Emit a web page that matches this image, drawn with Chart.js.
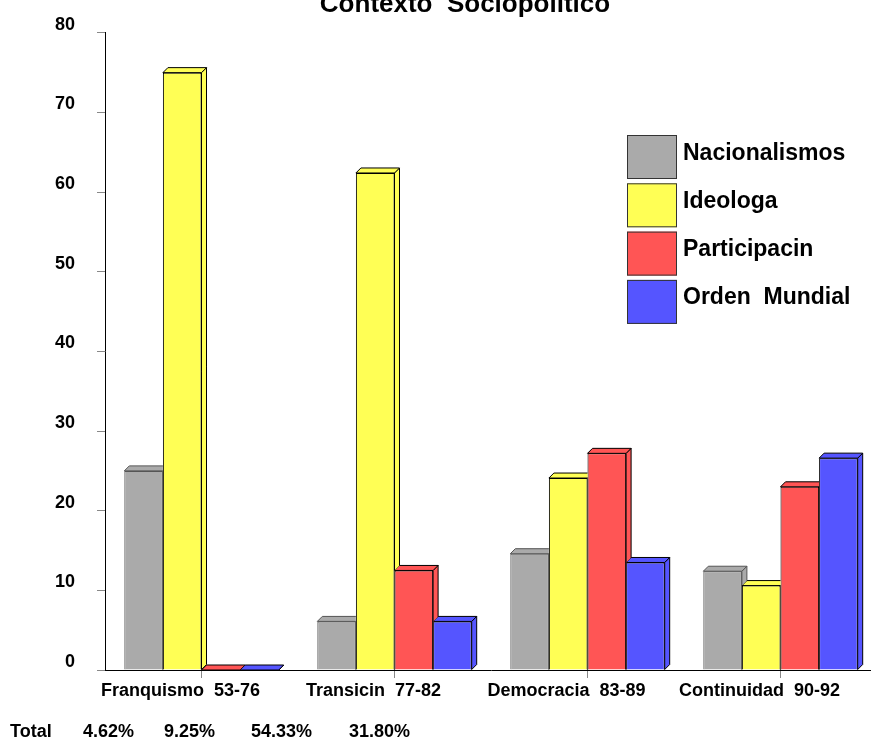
<!DOCTYPE html>
<html>
<head>
<meta charset="utf-8">
<script src="https://cdn.jsdelivr.net/npm/chart.js@4.4.1/dist/chart.umd.min.js"></script>
<style>
html,body{margin:0;padding:0;background:#fff;overflow:hidden;}
#wrap{position:absolute;left:0;top:0;width:880px;height:737px;}
</style>
</head>
<body>
<div id="wrap"><canvas id="c" width="880" height="737"></canvas></div>
<script>
const titleText = 'Contexto  Sociopolitico';
const categories = ['Franquismo  53-76', 'Transicin  77-82', 'Democracia  83-89', 'Continuidad  90-92'];
const seriesNames = ['Nacionalismos', 'Ideologa', 'Participacin', 'Orden  Mundial'];
const nacionalismos = [25.0, 6.1, 14.6, 12.4];
const ideologia = [75.0, 62.4, 24.1, 10.6];
const participacion = [0, 12.5, 27.2, 23.0];
const ordenMundial = [0, 6.1, 13.5, 26.6];
const yTicks = [0, 10, 20, 30, 40, 50, 60, 70, 80];
const totalLabel = 'Total';
const totals = [4.62, 9.25, 54.33, 31.80];

const FONT = "'Liberation Sans', Arial, sans-serif";
const fillColors = ['#aaaaaa', '#ffff55', '#ff5555', '#5555ff'];
const edgeColors = ['#555555', '#000000', '#000000', '#000000'];
const seriesValues = [nacionalismos, ideologia, participacion, ordenMundial];

const DEPTH = 5;

function barBox(bar) {
  const p = bar.getProps(['x', 'y', 'base', 'width'], true);
  return {
    l: p.x - p.width / 2, r: p.x + p.width / 2,
    t: Math.min(p.y, p.base), b: Math.max(p.y, p.base)
  };
}

const depthPlugin = {
  id: 'depth3d',
  beforeDatasetDraw(chart, args) {
    const ctx = chart.ctx;
    const meta = args.meta;
    const ds = chart.data.datasets[args.index];
    ctx.save();
    // keep the next series (already drawn, sits in front) uncovered
    const next = chart.getDatasetMeta(args.index + 1);
    if (next && next.data && next.data.length && args.index + 1 < chart.data.datasets.length) {
      ctx.beginPath();
      ctx.rect(0, 0, chart.width, chart.height);
      next.data.forEach(bar => {
        const q = barBox(bar);
        ctx.moveTo(q.l, q.b);
        ctx.lineTo(q.l, q.t);
        ctx.lineTo(q.l + DEPTH, q.t - DEPTH);
        ctx.lineTo(q.r + DEPTH, q.t - DEPTH);
        ctx.lineTo(q.r + DEPTH, q.b - DEPTH);
        ctx.lineTo(q.r, q.b);
        ctx.closePath();
      });
      ctx.clip('evenodd');
    }
    ctx.lineWidth = 1;
    ctx.strokeStyle = ds.borderColor;
    ctx.fillStyle = ds.backgroundColor;
    meta.data.forEach(bar => {
      const { l, r, t, b } = barBox(bar);
      ctx.beginPath();
      ctx.moveTo(r, b);
      ctx.lineTo(r + DEPTH, b - DEPTH);
      ctx.lineTo(r + DEPTH, t - DEPTH);
      ctx.lineTo(r, t);
      ctx.closePath();
      ctx.fill(); ctx.stroke();
      ctx.beginPath();
      ctx.moveTo(l, t);
      ctx.lineTo(l + DEPTH, t - DEPTH);
      ctx.lineTo(r + DEPTH, t - DEPTH);
      ctx.lineTo(r, t);
      ctx.closePath();
      ctx.fill(); ctx.stroke();
    });
    ctx.restore();
  }
};

const decorPlugin = {
  id: 'decor',
  afterDraw(chart) {
    const ctx = chart.ctx;
    ctx.save();
    ctx.fillStyle = '#000';
    ctx.font = 'bold 26px ' + FONT;
    ctx.textAlign = 'center';
    ctx.textBaseline = 'alphabetic';
    ctx.fillText(titleText, 465, 12);
    ctx.font = 'bold 23px ' + FONT;
    ctx.textAlign = 'left';
    chart.data.datasets.forEach((ds, i) => {
      const y = 135 + i * 48.3;
      ctx.fillStyle = ds.backgroundColor;
      ctx.fillRect(627, y, 50, 44);
      ctx.strokeStyle = '#333';
      ctx.lineWidth = 1;
      ctx.strokeRect(627.5, y + 0.5, 49, 43);
      ctx.fillStyle = '#000';
      ctx.fillText(ds.label, 683, y + 24.5);
    });
    ctx.font = 'bold 18px ' + FONT;
    ctx.fillText(totalLabel, 10, 737);
    const xs = [83, 164, 251, 349];
    totals.forEach((v, i) => ctx.fillText(v.toFixed(2) + '%', xs[i], 737));
    ctx.restore();
  }
};

new Chart(document.getElementById('c'), {
  type: 'bar',
  data: {
    labels: categories,
    datasets: seriesNames.map((name, i) => ({
      label: name,
      data: seriesValues[i],
      backgroundColor: fillColors[i],
      borderColor: edgeColors[i],
      borderWidth: 1,
      borderSkipped: 'start'
    }))
  },
  options: {
    responsive: false,
    animation: false,
    devicePixelRatio: 1,
    layout: { padding: { top: 30, right: 3, left: 0, bottom: 0 } },
    plugins: { legend: { display: false }, title: { display: false }, tooltip: { enabled: false } },
    datasets: { bar: { barPercentage: 1.0, categoryPercentage: 0.8 } },
    scales: {
      x: {
        afterFit(s) { s.height = 67; },
        grid: { offset: false, drawOnChartArea: false, tickLength: 8, color: '#888' },
        border: { display: true, color: '#000', width: 1 },
        ticks: { color: '#000', font: { family: FONT, size: 18, weight: 'bold' }, padding: 2, labelOffset: -21, maxRotation: 0, autoSkip: false }
      },
      y: {
        min: 0, max: 80,
        afterFit(s) { s.width = 105; },
        afterBuildTicks(s) { s.ticks = yTicks.map(v => ({ value: v })); },
        grid: { drawOnChartArea: false, tickLength: 8, color: '#888' },
        border: { display: true, color: '#000', width: 1 },
        ticks: { color: '#000', font: { family: FONT, size: 18, weight: 'bold' }, padding: 22, labelOffset: -8 }
      }
    }
  },
  plugins: [depthPlugin, decorPlugin]
});
</script>
</body>
</html>
